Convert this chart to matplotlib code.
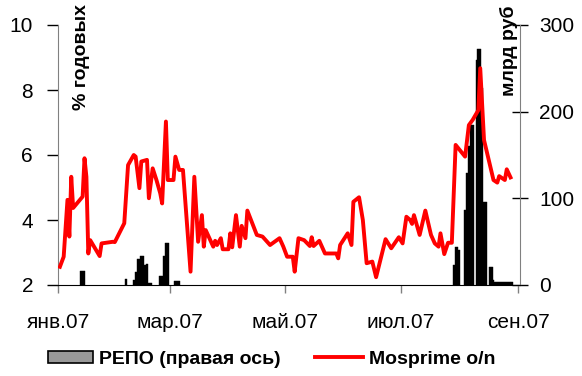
import matplotlib
matplotlib.use("Agg")
import matplotlib.pyplot as plt
from matplotlib.patches import Rectangle
from matplotlib.lines import Line2D
import pandas as pd

plt.rcParams['font.family'] = ['Liberation Sans', 'DejaVu Sans']

# Mosprime o/n, % годовых
rate_dates = ['2007-01-02', '2007-01-04', '2007-01-06', '2007-01-07', '2007-01-08', '2007-01-09',
              '2007-01-14', '2007-01-15', '2007-01-16', '2007-01-17', '2007-01-18', '2007-01-23',
              '2007-01-24', '2007-01-30', '2007-01-31', '2007-02-05', '2007-02-07', '2007-02-10',
              '2007-02-11', '2007-02-13', '2007-02-14', '2007-02-17', '2007-02-18', '2007-02-20',
              '2007-02-22', '2007-02-24', '2007-02-25', '2007-02-27', '2007-02-28', '2007-03-03',
              '2007-03-04', '2007-03-06', '2007-03-08', '2007-03-12', '2007-03-14', '2007-03-16',
              '2007-03-18', '2007-03-19', '2007-03-20', '2007-03-24', '2007-03-25', '2007-03-26',
              '2007-03-28', '2007-03-29', '2007-04-01', '2007-04-02', '2007-04-03', '2007-04-05',
              '2007-04-07', '2007-04-08', '2007-04-10', '2007-04-11', '2007-04-16', '2007-04-19',
              '2007-04-23', '2007-04-28', '2007-04-30', '2007-05-02', '2007-05-05', '2007-05-06',
              '2007-05-08', '2007-05-11', '2007-05-14', '2007-05-15', '2007-05-16', '2007-05-19',
              '2007-05-22', '2007-05-28', '2007-05-29', '2007-05-30', '2007-06-03', '2007-06-05',
              '2007-06-06', '2007-06-09', '2007-06-11', '2007-06-13', '2007-06-16', '2007-06-18',
              '2007-06-23', '2007-06-26', '2007-06-30', '2007-07-02', '2007-07-04', '2007-07-06',
              '2007-07-07', '2007-07-08', '2007-07-11', '2007-07-14', '2007-07-17', '2007-07-19',
              '2007-07-21', '2007-07-22', '2007-07-24', '2007-07-26', '2007-07-28', '2007-07-30',
              '2007-08-04', '2007-08-06', '2007-08-08', '2007-08-11', '2007-08-12', '2007-08-14',
              '2007-08-19', '2007-08-21', '2007-08-22', '2007-08-25', '2007-08-26', '2007-08-28']
rate_values = [2.56, 2.87, 4.62, 3.49, 5.33, 4.37,
               4.72, 5.90, 5.33, 2.97, 3.38, 2.89,
               3.28, 3.33, 3.32, 3.90, 5.69, 6.00,
               5.95, 4.98, 5.80, 5.85, 4.67, 5.59,
               5.23, 4.82, 4.51, 7.03, 5.23, 5.23,
               5.95, 5.54, 5.54, 2.41, 5.33, 3.33,
               4.15, 3.18, 3.69, 3.18, 3.36, 3.23,
               3.44, 3.10, 3.10, 3.59, 3.16, 4.15,
               3.18, 3.82, 3.44, 4.29, 3.54, 3.49,
               3.23, 3.44, 3.18, 2.87, 2.87, 2.41,
               3.44, 3.38, 3.20, 3.47, 3.20, 3.36,
               2.97, 2.97, 2.82, 3.23, 3.59, 3.23,
               4.56, 4.70, 4.00, 2.67, 2.72, 2.24,
               3.41, 3.13, 3.47, 3.28, 4.10, 4.00,
               3.88, 4.15, 3.54, 4.29, 3.54, 3.28,
               3.18, 3.59, 2.95, 3.30, 3.30, 6.31,
               5.95, 6.92, 7.08, 7.38, 8.67, 6.46,
               5.23, 5.15, 5.35, 5.23, 5.56, 5.31]

# РЕПО, млрд руб (правая ось)
repo_dates = ['2007-01-13', '2007-01-14', '2007-01-15', '2007-02-06', '2007-02-10', '2007-02-11',
              '2007-02-12', '2007-02-13', '2007-02-14', '2007-02-15', '2007-02-16', '2007-02-17',
              '2007-02-18', '2007-02-19', '2007-02-24', '2007-02-25', '2007-02-26', '2007-02-27',
              '2007-02-28', '2007-03-04', '2007-03-05', '2007-03-06',
              '2007-07-29', '2007-07-30', '2007-07-31', '2007-08-01', '2007-08-04', '2007-08-05',
              '2007-08-06', '2007-08-07', '2007-08-08', '2007-08-10', '2007-08-11', '2007-08-12',
              '2007-08-13', '2007-08-14', '2007-08-15', '2007-08-17', '2007-08-18', '2007-08-19',
              '2007-08-20', '2007-08-21', '2007-08-22', '2007-08-23', '2007-08-24', '2007-08-25',
              '2007-08-26', '2007-08-27', '2007-08-28', '2007-08-29']
repo_values = [16, 16, 16, 7, 6, 15,
               30, 30, 33, 33, 23, 24,
               2, 2, 10, 10, 33, 49,
               49, 5, 5, 5,
               23, 44, 44, 40, 86, 129,
               160, 185, 185, 260, 272, 272,
               227, 96, 96, 21, 21, 6,
               3, 3, 3, 3, 3, 3,
               3, 3, 3, 3]

month_ticks = ['2007-01-01', '2007-03-01', '2007-05-01', '2007-07-01', '2007-09-01']
month_labels = ['янв.07', 'мар.07', 'май.07', 'июл.07', 'сен.07']
legend_labels = ['РЕПО (правая ось)', 'Mosprime o/n']

rd = pd.to_datetime(rate_dates)
bd = pd.to_datetime(repo_dates)

W, H = 582, 376
fig = plt.figure(figsize=(W/100, H/100), dpi=100)
ax = fig.add_axes([58/W, 1-285/H, (520-58)/W, 260/H])
ax2 = ax.twinx()
ax.set_zorder(ax2.get_zorder() + 1)
ax.patch.set_visible(False)

ax2.bar(bd, repo_values, width=1.0, color='black', edgecolor='black', linewidth=0.3,
        align='center', zorder=2)
ax.plot(rd, rate_values, color='#ff0000', lw=2.8, zorder=3)

ax.set_xlim(pd.Timestamp('2007-01-01'), pd.Timestamp('2007-09-02'))
ax.set_ylim(2, 10)
ax2.set_ylim(0, 300)
ax.set_yticks([2, 4, 6, 8, 10])
ax2.set_yticks([0, 100, 200, 300])
ax.set_xticks(pd.to_datetime(month_ticks))
ax.set_xticklabels(month_labels)

for a in (ax, ax2):
    a.spines['top'].set_visible(False)
ax.spines['left'].set_color('#808080')
ax2.spines['left'].set_visible(False)
ax2.spines['right'].set_color('#808080')
ax2.spines['bottom'].set_visible(False)
ax.spines['right'].set_visible(False)
ax.spines['bottom'].set_color('black')

ax.tick_params(axis='y', direction='out', length=8, width=1, pad=10, labelsize=15, color='black')
ax.tick_params(axis='x', direction='out', length=6, width=1, pad=14, labelsize=15, color='#808080')
ax2.tick_params(axis='y', direction='inout', length=12, width=1, pad=8, labelsize=15, color='black')

fig.text(81/W, 1-4/H, '% годовых', rotation=90, ha='center', va='top',
         fontsize=14, fontweight='bold')
fig.text(509/W, 1-6/H, 'млрд руб', rotation=90, ha='center', va='top',
         fontsize=14, fontweight='bold')

# legend (drawn manually to follow the reference layout)
ly = 1 - 357/H
fig.add_artist(Rectangle((48/W, ly - 6/H), 45/W, 12/H, transform=fig.transFigure,
                         facecolor='#999999', edgecolor='black', linewidth=1.2))
fig.text(99/W, ly, legend_labels[0], ha='left', va='center_baseline', fontsize=14, fontweight='bold')
fig.add_artist(Line2D([315/W, 363/W], [ly, ly], transform=fig.transFigure,
                      color='#ff0000', lw=2.8))
fig.text(369/W, ly, legend_labels[1], ha='left', va='center_baseline', fontsize=14, fontweight='bold')

fig.savefig('out.png', dpi=100)
